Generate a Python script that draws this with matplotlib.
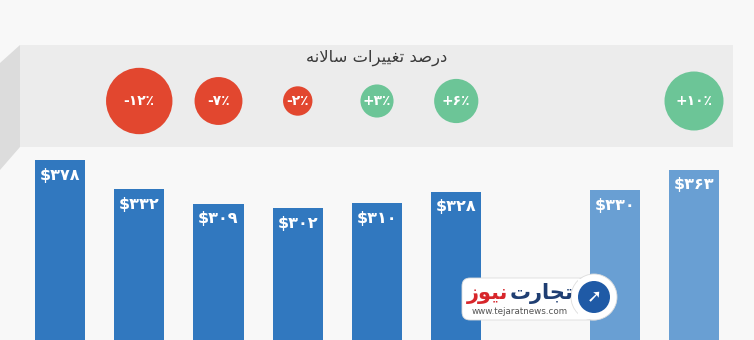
import matplotlib
matplotlib.use("Agg")
import matplotlib.pyplot as plt
from matplotlib.patches import Polygon, FancyBboxPatch, Circle, Rectangle
import matplotlib.transforms as mtransforms

# ---------------- data ----------------
slots = ["1", "2", "3", "4", "5", "6", "7", "8", "9"]
values = [378, 332, 309, 302, 310, 328, None, 330, 363]
forecast = [False, False, False, False, False, False, False, True, True]
changes = [None, -12, -7, -2, 3, 6, None, None, 10]
header = "درصد تغییرات سالانه"
brand_a = "تجارت"
brand_b = "نیوز"
brand_url = "www.tejaratnews.com"

# ---------------- simple Persian shaping ----------------
FORMS = {  # isolated, final, initial, medial
    'ا': ('\uFE8D', '\uFE8E', None, None),
    'د': ('\uFEA9', '\uFEAA', None, None),
    'ر': ('\uFEAD', '\uFEAE', None, None),
    'ز': ('\uFEAF', '\uFEB0', None, None),
    'و': ('\uFEED', '\uFEEE', None, None),
    'ت': ('\uFE95', '\uFE96', '\uFE97', '\uFE98'),
    'ج': ('\uFE9D', '\uFE9E', '\uFE9F', '\uFEA0'),
    'س': ('\uFEB1', '\uFEB2', '\uFEB3', '\uFEB4'),
    'ص': ('\uFEB9', '\uFEBA', '\uFEBB', '\uFEBC'),
    'غ': ('\uFECD', '\uFECE', '\uFECF', '\uFED0'),
    'ل': ('\uFEDD', '\uFEDE', '\uFEDF', '\uFEE0'),
    'ن': ('\uFEE5', '\uFEE6', '\uFEE7', '\uFEE8'),
    'ه': ('\uFEE9', '\uFEEA', '\uFEEB', '\uFEEC'),
    'ی': ('\uFBFC', '\uFBFD', '\uFBFE', '\uFBFF'),
}


def dual(c):
    return c in FORMS and FORMS[c][2] is not None


def shape(text):
    out = []
    i = 0
    n = len(text)
    while i < n:
        c = text[i]
        prev = text[i - 1] if i > 0 else ' '
        joins_prev = dual(prev) and i > 0
        if c == 'ل' and i + 1 < n and text[i + 1] == 'ا':
            out.append('\uFEFC' if joins_prev else '\uFEFB')
            i += 2
            continue
        if c not in FORMS:
            out.append(c)
            i += 1
            continue
        nxt = text[i + 1] if i + 1 < n else ' '
        joins_next = dual(c) and nxt in FORMS
        iso, fin, ini, med = FORMS[c]
        if joins_prev and joins_next:
            out.append(med)
        elif joins_prev:
            out.append(fin)
        elif joins_next:
            out.append(ini)
        else:
            out.append(iso)
        i += 1
    return ''.join(reversed(out))


FA_DIGITS = str.maketrans("0123456789%", "۰۱۲۳۴۵۶۷۸۹٪")


def fa(s):
    return s.translate(FA_DIGITS)


# ---------------- figure ----------------
W, H = 754, 340
fig = plt.figure(figsize=(W / 100, H / 100), dpi=100)
fig.patch.set_facecolor("#f8f8f8")

# background layer in pixel coordinates
bg = fig.add_axes([0, 0, 1, 1], zorder=0)
bg.set_xlim(0, W)
bg.set_ylim(H, 0)
bg.axis("off")
bg.add_patch(Polygon([(0, 63), (20, 45), (20, 147), (0, 170)], closed=True,
                     facecolor="#dcdcdc", edgecolor="none"))
bg.add_patch(Rectangle((20, 45), 713, 102, facecolor="#ececec", edgecolor="none"))
bg.text(377, 58, shape(header), ha="center", va="center", fontsize=11.8,
        color="#3a3a3a", family=["DejaVu Sans"])

# main data axes
ax = fig.add_axes([0, 0, 1, 1], zorder=1)
ax.patch.set_alpha(0)
px_per_slot = 79.25
first_center = 60
x_lo = (0 - first_center) / px_per_slot
x_hi = (W - first_center) / px_per_slot
ax.set_xlim(x_lo, x_hi)
base_px = 399
ppu = 0.632
ax.set_ylim((base_px - H) / ppu, base_px / ppu)
ax.axis("off")

dark = "#3178bf"
light = "#699fd3"
for i, (v, f) in enumerate(zip(values, forecast)):
    if v is None:
        continue
    ax.bar(i, v, width=0.635, color=light if f else dark, edgecolor="none", zorder=2)
    ax.annotate(fa("$%d" % v), xy=(i, v), xytext=(0, -15), textcoords="offset pixels",
                ha="center", va="center", color="white", fontsize=11.5,
                fontweight="bold", zorder=3)

# change bubbles
trans = mtransforms.blended_transform_factory(ax.transData, ax.transAxes)
bubble_y = 1 - 101 / H
for i, c in enumerate(changes):
    if c is None:
        continue
    r_px = 11 + 1.85 * abs(c)
    size = (2 * r_px * 0.72) ** 2
    col = "#e2472f" if c < 0 else "#6cc597"
    ax.scatter([i], [bubble_y], s=size, color=col, edgecolors="none",
               transform=trans, zorder=4, clip_on=False)
    label = fa(("+%d%%" % c) if c > 0 else ("-%d%%" % abs(c)))
    ax.text(i, bubble_y, label, transform=trans, ha="center", va="center",
            color="white", fontsize=10, fontweight="bold", zorder=5)

# watermark
wm = fig.add_axes([0, 0, 1, 1], zorder=2)
wm.patch.set_alpha(0)
wm.set_xlim(0, W)
wm.set_ylim(H, 0)
wm.axis("off")
wm.add_patch(FancyBboxPatch((462, 278), 140, 42, boxstyle="round,pad=0,rounding_size=8",
                            facecolor="white", edgecolor="#dddddd", lw=0.6))
wm.add_patch(Circle((594, 297), 23, facecolor="white", edgecolor="#dddddd", lw=0.6))
wm.add_patch(Rectangle((578, 279), 20, 40, facecolor="white", edgecolor="none"))
wm.add_patch(Circle((594, 297), 16, facecolor="#1f5aa6", edgecolor="none"))
wm.text(594, 297, "\u279a", ha="center", va="center", color="white", fontsize=13,
        family=["DejaVu Sans"], fontweight="bold")
t1 = wm.text(573, 294, shape(brand_a), ha="right", va="center", color="#1f3e72",
             fontsize=15, fontweight="bold", family=["DejaVu Sans"])
wm.annotate(shape(brand_b), xy=(0, 0.5), xycoords=t1, xytext=(-1, 0),
            textcoords="offset pixels", ha="right", va="center", color="#d7262b",
            fontsize=15, fontweight="bold", family=["DejaVu Sans"])
wm.text(520, 312, brand_url, ha="center", va="center", color="#555555",
        fontsize=6.3, family=["DejaVu Sans"])

fig.savefig("out.png", dpi=100, facecolor=fig.get_facecolor())
